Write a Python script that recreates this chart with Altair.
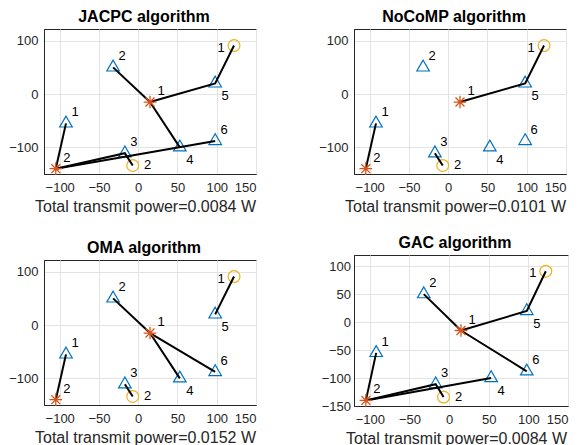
import altair as alt
import pandas as pd

# ---- data ----
user_ids = ["1", "2", "3", "4", "5", "6"]
user_x = [-92, -32, -17, 53, 98, 98]
user_y = [-55, 50, -111, -100, 20, -88]

bs_ids = ["1", "2"]
bs_x = [15, -105]
bs_y = [-15, -140]

rx_ids = ["1", "2"]
rx_x = [122, -7]
rx_y = [91, -134]

titles = ["JACPC algorithm", "NoCoMP algorithm", "OMA algorithm", "GAC algorithm"]
powers = ["0.0084", "0.0101", "0.0152", "0.0084"]

jacpc_links = [["B1", "U2"], ["B1", "U5", "R1"], ["B1", "U4"],
               ["B2", "U1"], ["B2", "U6"], ["B2", "U3", "R2"]]
nocomp_links = [["B1", "U5", "R1"], ["B2", "U1"], ["U3", "R2"]]
oma_links = [["B1", "U2"], ["B1", "U4"], ["B1", "U6"], ["U5", "R1"],
             ["B2", "U1"], ["U3", "R2"]]
gac_links = [["B1", "U2"], ["B1", "U5", "R1"], ["B1", "U6"],
             ["B2", "U1"], ["B2", "U3", "R2"], ["B2", "U4"]]

x_ticks = [-100, -50, 0, 50, 100, 150]
y_ticks_a = [-100, 0, 100]
y_ticks_b = [-150, -100, -50, 0, 50, 100]

# ---- tables ----
nodes = {}
for i, u in enumerate(user_ids):
    nodes["U" + u] = (user_x[i], user_y[i])
for i, b in enumerate(bs_ids):
    nodes["B" + b] = (bs_x[i], bs_y[i])
for i, r in enumerate(rx_ids):
    nodes["R" + r] = (rx_x[i], rx_y[i])

users = pd.DataFrame({"x": user_x, "y": user_y, "id": user_ids})
bss = pd.DataFrame({"x": bs_x, "y": bs_y, "id": bs_ids})
rxs = pd.DataFrame({"x": rx_x, "y": rx_y, "id": rx_ids})

below = ["4", "5"]
users_up = users[~users["id"].isin(below)]
users_down = users[users["id"].isin(below)]
rx_left = rxs[rxs["id"] == "1"]
rx_right = rxs[rxs["id"] == "2"]


def link_df(links):
    rows = []
    for s, path in enumerate(links):
        for k, n in enumerate(path):
            rows.append({"seg": s, "k": k, "x": nodes[n][0], "y": nodes[n][1]})
    return pd.DataFrame(rows)


TRI = "M0,-1L-0.866,0.5L0.866,0.5Z"
AST = "M-1,0L1,0M0,-1L0,1M-0.707,-0.707L0.707,0.707M-0.707,0.707L0.707,-0.707"


def panel(i, links, w, h, ydom, yticks, ypad=6):
    X = alt.X("x:Q", scale=alt.Scale(domain=[-120, 150], nice=False, zero=False),
              axis=alt.Axis(values=x_ticks, title="Total transmit power=%s W" % powers[i],
                            titleX=w / 2 - 5))
    Y = alt.Y("y:Q", scale=alt.Scale(domain=ydom, nice=False, zero=False),
              axis=alt.Axis(values=yticks, title=None, labelPadding=ypad))
    tri = alt.Chart(users).mark_point(shape=TRI, size=210, filled=False,
                                      color="#0072BD", strokeWidth=1.2, opacity=1).encode(X, Y)
    circ = alt.Chart(rxs).mark_point(shape="circle", size=140, filled=False,
                                     color="#EDB120", strokeWidth=1.2, opacity=1).encode(X, Y)
    ln = alt.Chart(link_df(links)).mark_line(color="black", strokeWidth=2).encode(
        X, Y, detail="seg:N", order="k:Q")
    ast = alt.Chart(bss).mark_point(shape=AST, size=160, filled=False,
                                    color="#D95319", strokeWidth=1.3, opacity=1).encode(X, Y)
    tk = dict(fontSize=13, font="Liberation Sans", color="black", align="center", baseline="middle")
    t1 = alt.Chart(users_up).mark_text(dx=9, dy=-11, **tk).encode(X, Y, text="id:N")
    t2 = alt.Chart(users_down).mark_text(dx=10, dy=13, **tk).encode(X, Y, text="id:N")
    t3 = alt.Chart(bss).mark_text(dx=11, dy=-11, **tk).encode(X, Y, text="id:N")
    t4 = alt.Chart(rx_left).mark_text(dx=-13, dy=2, **tk).encode(X, Y, text="id:N")
    t5 = alt.Chart(rx_right).mark_text(dx=15, dy=0, **tk).encode(X, Y, text="id:N")
    return alt.layer(tri, circ, ln, ast, t1, t2, t3, t4, t5).properties(
        width=w, height=h, title=alt.Title(titles[i], dx=-6))


p1 = panel(0, jacpc_links, 212, 145, [-150, 122], y_ticks_a)
p2 = panel(1, nocomp_links, 212, 145, [-150, 122], y_ticks_a)
p3 = panel(2, oma_links, 212, 145, [-150, 122], y_ticks_a)
p4 = panel(3, gac_links, 214, 151, [-150, 120], y_ticks_b, ypad=3.5)

left = alt.vconcat(p1, p3, spacing=24)
right = alt.vconcat(p2, p4, spacing=19)

chart = alt.hconcat(left, right, spacing=61).properties(
    padding={"left": 0, "top": 0, "right": 0, "bottom": 0}
).configure_view(
    stroke="#262626", strokeWidth=1
).configure_axis(
    labelFont="Liberation Sans", labelFontSize=13, labelColor="#262626",
    ticks=False, tickSize=0, domainColor="#262626", domainWidth=1,
    gridColor="#e3e3e3", gridWidth=1,
    titleFont="Liberation Sans", titleFontSize=16, titleFontWeight="normal",
    titleColor="#262626"
).configure_axisX(
    labelPadding=7, titlePadding=4
).configure_title(
    font="Liberation Sans", fontSize=16, fontWeight="bold", color="black", offset=0
)

chart.save("out.html", embed_options={"renderer": "svg", "actions": False})
